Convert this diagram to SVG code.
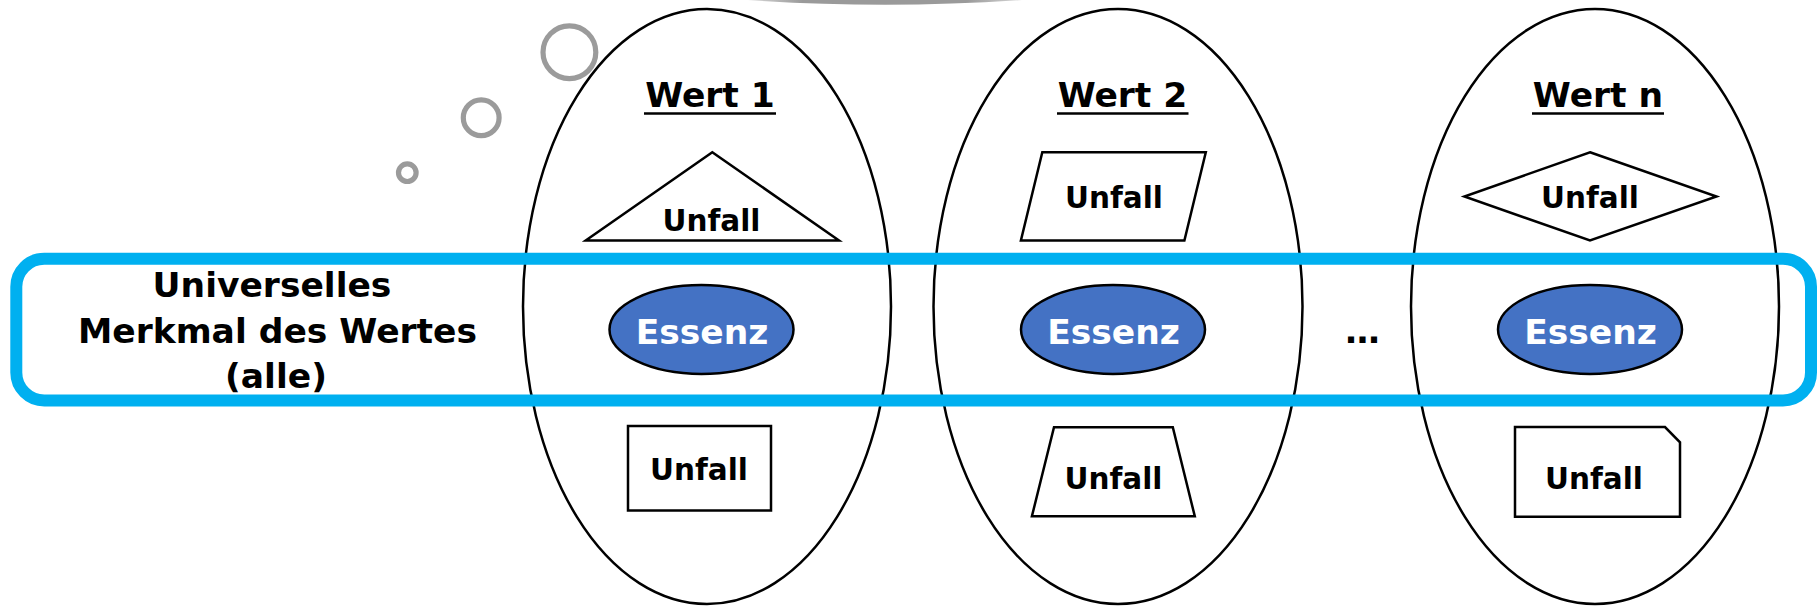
<svg xmlns="http://www.w3.org/2000/svg" width="1818" height="606" viewBox="0 0 1818 606">
  <defs>
    <linearGradient id="cloudGrad" x1="0" y1="0" x2="1" y2="0">
      <stop offset="0" stop-color="#d8d8d8"/>
      <stop offset="0.2" stop-color="#9a9a9a"/>
      <stop offset="0.8" stop-color="#9a9a9a"/>
      <stop offset="1" stop-color="#d8d8d8"/>
    </linearGradient>
  </defs>
  <style>
    text { font-family: "DejaVu Sans", Verdana, "Liberation Sans", sans-serif; font-weight: bold; fill: #000; }
    .big { font-size: 34.5px; }
    .small { font-size: 29.5px; }
    .ess { font-size: 34.5px; fill: #fff; }
    .outer { fill: none; stroke: #000; stroke-width: 2.5; }
    .shape { fill: #fff; stroke: #000; stroke-width: 2.5; stroke-linejoin: miter; }
    .essenz { fill: #4472C4; stroke: #000; stroke-width: 2.5; }
    .bubble { fill: none; stroke: #9b9b9b; stroke-width: 5.2; }
    .uline { stroke: #000; stroke-width: 2.5; }
    .band { fill: none; stroke: #00B0F0; stroke-width: 12; }
  </style>
  <rect width="1818" height="606" fill="#fff"/>

  <!-- thought cloud remnants -->
  <g id="thought">
    <path d="M 748 0 Q 885 9.5 1022 0 Z" fill="url(#cloudGrad)"/>
    <circle class="bubble" cx="569.4" cy="52.2" r="26.4"/>
    <circle class="bubble" cx="481.2" cy="117.8" r="17.9"/>
    <circle class="bubble" cx="407.3" cy="172.7" r="8.8"/>
  </g>

  <!-- value 1 -->
  <g id="wert1">
    <ellipse class="outer" cx="707" cy="306.5" rx="184" ry="297.5"/>
    <text class="big" x="710" y="107" text-anchor="middle">Wert 1</text>
    <line class="uline" x1="644" y1="113.5" x2="776" y2="113.5"/>
  </g>
  <g id="wert1-unfall-top">
    <polygon class="shape" points="712.3,152.3 839,240.5 585.7,240.5"/>
    <text class="small" x="711.5" y="231" text-anchor="middle">Unfall</text>
  </g>
  <g id="wert1-unfall-bottom">
    <rect class="shape" x="628" y="426" width="143" height="84.5"/>
    <text class="small" x="699" y="480" text-anchor="middle">Unfall</text>
  </g>

  <!-- value 2 -->
  <g id="wert2">
    <ellipse class="outer" cx="1118" cy="306.5" rx="184.5" ry="297.5"/>
    <text class="big" x="1122.5" y="107" text-anchor="middle">Wert 2</text>
    <line class="uline" x1="1057" y1="113.5" x2="1188.5" y2="113.5"/>
  </g>
  <g id="wert2-unfall-top">
    <polygon class="shape" points="1042.3,152.3 1205.8,152.3 1184.4,240.5 1020.9,240.5"/>
    <text class="small" x="1114" y="208" text-anchor="middle">Unfall</text>
  </g>
  <g id="wert2-unfall-bottom">
    <polygon class="shape" points="1054,427.3 1172.8,427.3 1194.8,516.3 1031.9,516.3"/>
    <text class="small" x="1113.5" y="488.5" text-anchor="middle">Unfall</text>
  </g>

  <!-- value n -->
  <g id="wertn">
    <ellipse class="outer" cx="1595" cy="306.5" rx="184" ry="297.5"/>
    <text class="big" x="1598" y="107" text-anchor="middle">Wert n</text>
    <line class="uline" x1="1532" y1="113.5" x2="1664" y2="113.5"/>
  </g>
  <g id="wertn-unfall-top">
    <polygon class="shape" points="1590,152.3 1716.5,196.5 1590,240.5 1464.4,196.5"/>
    <text class="small" x="1590" y="208" text-anchor="middle">Unfall</text>
  </g>
  <g id="wertn-unfall-bottom">
    <polygon class="shape" points="1515,427 1665,427 1680,442.3 1680,516.7 1515,516.7"/>
    <text class="small" x="1594" y="489" text-anchor="middle">Unfall</text>
  </g>

  <!-- universal feature band -->
  <g id="band">
    <rect class="band" x="16.3" y="258.7" width="1794.7" height="141.8" rx="28" ry="28"/>
    <text class="big" x="272" y="296.7" text-anchor="middle">Universelles</text>
    <text class="big" x="277.5" y="343" text-anchor="middle">Merkmal des Wertes</text>
    <text class="big" x="276" y="388" text-anchor="middle">(alle)</text>
  </g>

  <g id="essenz1">
    <ellipse class="essenz" cx="701.5" cy="329.5" rx="92" ry="44.5"/>
    <text class="ess" x="702" y="343.7" text-anchor="middle">Essenz</text>
  </g>
  <g id="essenz2">
    <ellipse class="essenz" cx="1113" cy="329.5" rx="92" ry="44.5"/>
    <text class="ess" x="1113.5" y="343.7" text-anchor="middle">Essenz</text>
  </g>
  <g id="ellipsis">
    <text class="big" x="1362.5" y="343" text-anchor="middle">…</text>
  </g>
  <g id="essenz3">
    <ellipse class="essenz" cx="1590" cy="329.5" rx="92" ry="44.5"/>
    <text class="ess" x="1590.5" y="343.7" text-anchor="middle">Essenz</text>
  </g>

  <g id="connectors"/>
</svg>
